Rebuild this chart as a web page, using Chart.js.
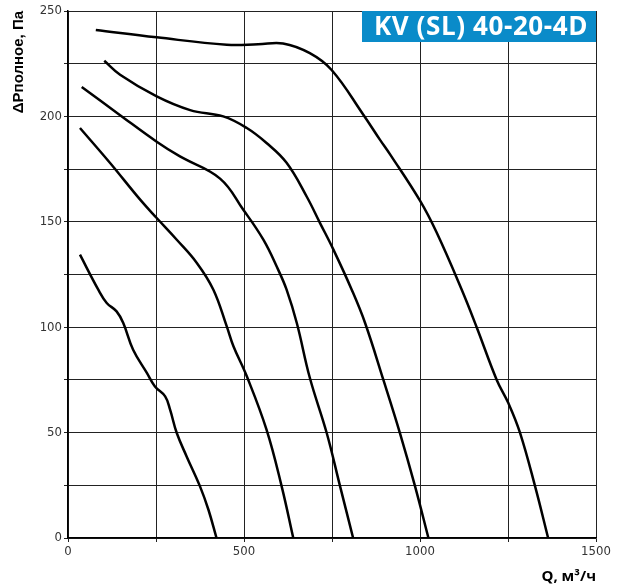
<!DOCTYPE html>
<html>
<head>
<meta charset="utf-8">
<script src="https://cdn.jsdelivr.net/npm/chart.js@4"></script>
<style>
  body { margin: 0; background: #fff; }
  canvas { display: block; }
</style>
</head>
<body>
<canvas id="fanChart" width="617" height="588"></canvas>
<script>
// curves, Q in m3/h, dP in Pa
const q1 = [79, 252, 451, 540, 611, 687, 749, 839, 886, 915, 1000, 1047, 1118, 1161, 1218, 1251, 1284, 1327, 1364];
const p1 = [241, 237.5, 234, 234.2, 234.6, 230, 222, 200.8, 189, 182, 160, 145, 118, 100, 75, 64, 50, 24.5, 0];

const q2 = [103, 148, 252, 347, 441, 508, 564, 621, 678, 716, 754, 806, 844, 896, 943, 986, 1024];
const p2 = [226.4, 219.8, 209.5, 203, 200, 194.5, 187.4, 178, 162, 149.4, 136.8, 117.8, 102, 75, 49.8, 24.5, 0];

const q3 = [39, 148, 252, 318, 432, 498, 555, 597, 621, 650, 687, 735, 773, 810];
const p3 = [214, 200.6, 188, 181, 170.5, 155.7, 141.5, 127.3, 117.8, 102, 76, 49.8, 24.5, 0];

const q4 = [34, 119, 205, 252, 309, 366, 413, 451, 470, 508, 564, 607, 640];
const p4 = [194.5, 178, 160.5, 151.8, 141.5, 130.5, 117.8, 100.4, 91, 76.7, 51.4, 24.5, 0];

const q5 = [34, 86, 110, 138, 157, 185, 224, 247, 276, 290, 309, 337, 375, 399, 422];
const p5 = [134.4, 117.8, 111.5, 107.5, 102, 89.3, 78.3, 71.9, 67.2, 60.9, 49.8, 38.7, 24.5, 13.4, 0];

const curves = [[q1, p1], [q2, p2], [q3, p3], [q4, p4], [q5, p5]];

const modelName = 'KV (SL) 40-20-4D';
const xTitle = 'Q, м³/ч';
const yTitle = 'ΔPполное, Па';

const tickFont = { family: "'Liberation Sans Narrow', 'DejaVu Sans Condensed', Arial, sans-serif", size: 13 };

const whiteBg = {
  id: 'whiteBg',
  beforeDraw(chart) {
    const ctx = chart.ctx;
    ctx.save();
    ctx.fillStyle = '#fff';
    ctx.fillRect(0, 0, chart.width, chart.height);
    ctx.restore();
  }
};

// blue model label in the top right corner of the plot
const modelBox = {
  id: 'modelBox',
  afterDraw(chart) {
    const ctx = chart.ctx;
    const a = chart.chartArea;
    const w = 234, h = 31;
    ctx.save();
    ctx.fillStyle = '#0a8bc9';
    ctx.fillRect(a.right - w, a.top, w, h);
    ctx.fillStyle = '#fff';
    ctx.font = "bold 26px 'Open Sans', sans-serif";
    ctx.letterSpacing = '0.6px';
    ctx.textAlign = 'center';
    ctx.textBaseline = 'middle';
    ctx.fillText(modelName, a.right - w / 2 + 2, a.top + h / 2 + 1);
    ctx.restore();
  }
};

new Chart('fanChart', {
  type: 'scatter',
  data: {
    datasets: curves.map(c => ({
      data: c[0].map((q, i) => ({ x: q, y: c[1][i] })),
      showLine: true,
      borderColor: '#000',
      borderWidth: 2.5,
      pointRadius: 0,
      tension: 0.4,
      fill: false
    }))
  },
  options: {
    responsive: false,
    animation: false,
    layout: { padding: { top: 11, right: 21, left: 0, bottom: 0 } },
    plugins: {
      legend: { display: false },
      tooltip: { enabled: false }
    },
    scales: {
      x: {
        type: 'linear',
        min: 0,
        max: 1500,
        afterFit: s => { s.height = 50; },
        ticks: {
          stepSize: 250,
          autoSkip: false,
          maxRotation: 0,
          padding: 2,
          color: '#333',
          font: tickFont,
          callback: v => (v % 500 === 0 ? v : '')
        },
        grid: { color: '#222', lineWidth: 1, tickLength: 4 },
        border: { color: '#000', width: 1.5 },
        title: {
          display: true,
          text: xTitle,
          align: 'end',
          color: '#000',
          font: { family: "'Open Sans', sans-serif", size: 15, weight: 'bold' },
          padding: { top: 0, bottom: 2 }
        }
      },
      y: {
        min: 0,
        max: 250,
        afterFit: s => { s.width = 68; },
        ticks: {
          stepSize: 25,
          autoSkip: false,
          padding: 2,
          color: '#333',
          font: tickFont,
          callback: v => (v % 50 === 0 ? v : '')
        },
        grid: { color: '#222', lineWidth: 1, tickLength: 4 },
        border: { color: '#000', width: 1.5 },
        title: {
          display: true,
          text: yTitle,
          align: 'end',
          color: '#000',
          font: { family: "'Liberation Sans', Arial, sans-serif", size: 15, weight: 'bold' },
          padding: { top: 10, bottom: 0 }
        }
      }
    }
  },
  plugins: [whiteBg, modelBox]
});
</script>
</body>
</html>
